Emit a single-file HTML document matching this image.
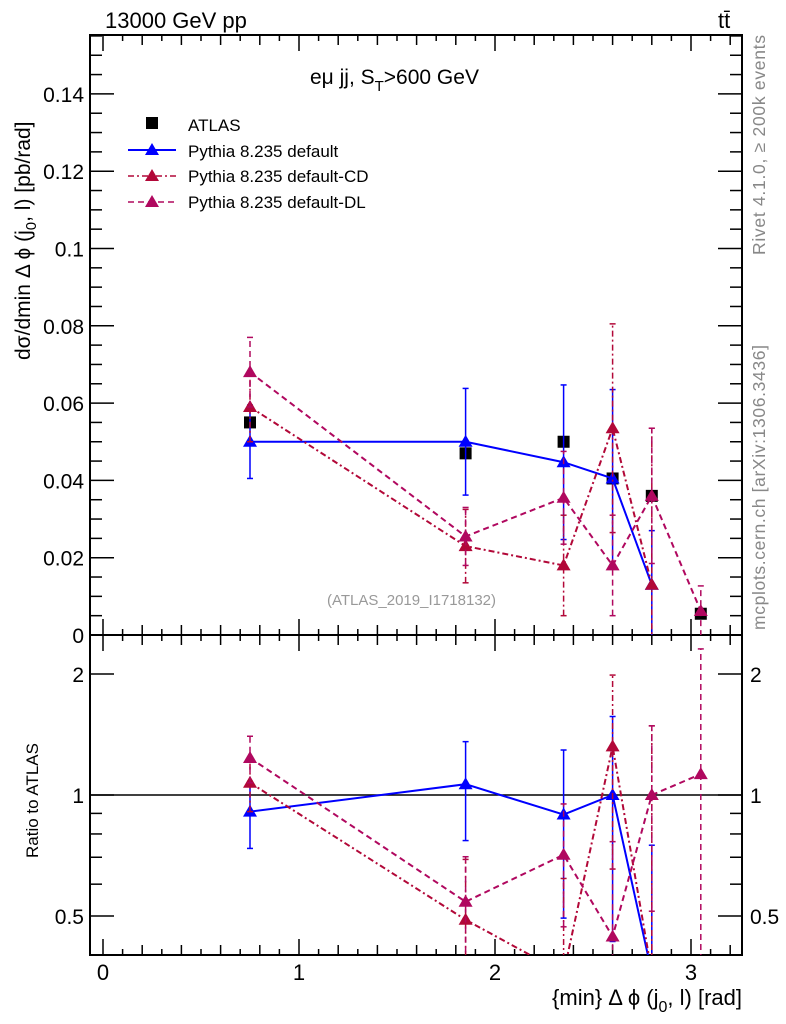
<!DOCTYPE html>
<html><head><meta charset="utf-8"><style>
html,body{margin:0;background:#fff;overflow:hidden;width:786px;height:1024px}
svg{display:block;font-family:"Liberation Sans",sans-serif}
</style></head><body>
<svg id="c" width="786" height="1024" viewBox="0 0 786 1024">
<text x="105" y="28" font-size="22">13000 GeV pp</text>
<text x="718" y="28" font-size="22">tt̄</text>
<text x="310" y="84" font-size="21">eμ jj, S<tspan dy="7" font-size="15">T</tspan><tspan dy="-7">&gt;600 GeV</tspan></text>
<g>
<rect x="146" y="117" width="12" height="12" fill="#000"/>
<text x="188" y="131" font-size="17">ATLAS</text>
<line x1="128" x2="176" y1="150" y2="150" stroke="#0000ff" stroke-width="2"/>
<path d="M152 143L159 155L145 155Z" fill="#0000ff"/>
<text x="188" y="157" font-size="17">Pythia 8.235 default</text>
<line x1="128" x2="176" y1="176" y2="176" stroke="#b20838" stroke-width="1.5" stroke-dasharray="6 3 2 3"/>
<path d="M152 169L159 181L145 181Z" fill="#b20838"/>
<text x="188" y="182" font-size="17">Pythia 8.235 default-CD</text>
<line x1="128" x2="176" y1="202" y2="202" stroke="#b0085f" stroke-width="1.5" stroke-dasharray="6 4"/>
<path d="M152 195L159 207L145 207Z" fill="#b0085f"/>
<text x="188" y="208" font-size="17">Pythia 8.235 default-DL</text>
</g>
<text x="327" y="605" font-size="15" fill="#999">(ATLAS_2019_I1718132)</text>
<text transform="translate(30,360) rotate(-90)" font-size="21">dσ/dmin Δ ϕ (j<tspan dy="6" font-size="15">0</tspan><tspan dy="-6">, l) [pb/rad]</tspan></text>
<text transform="translate(38,858) rotate(-90)" font-size="17">Ratio to ATLAS</text>
<text x="742" y="1005" font-size="22" text-anchor="end">{min} Δ ϕ (j<tspan dy="7" font-size="16">0</tspan><tspan dy="-7">, l) [rad]</tspan></text>
<text transform="translate(765,255) rotate(-90)" font-size="17.5" fill="#888" textLength="220">Rivet 4.1.0, ≥ 200k events</text>
<text transform="translate(765,630) rotate(-90)" font-size="17.5" fill="#888" textLength="285">mcplots.cern.ch [arXiv:1306.3436]</text>
</svg>
<script>
const xCenters=[0.75,1.85,2.35,2.6,2.8,3.05];
const atlasVals=[0.055,0.047,0.050,0.0405,0.036,0.0055];
const defVals=[0.050,0.050,0.0447,0.0405,0.013,null];
const defErr=[0.0095,0.0138,0.020,0.023,0.014,null];
const cdVals=[0.059,0.023,0.018,0.0535,0.013,null];
const cdErr=[0.009,0.0095,0.013,0.027,0.0405,null];
const dlVals=[0.068,0.0255,0.0355,0.018,0.036,0.0062];
const dlErr=[0.009,0.0075,0.012,0.013,0.0175,0.0065];
const mainTicks=[0,0.02,0.04,0.06,0.08,0.1,0.12,0.14];
const xTicks=[0,1,2,3];
const ratioTicks=[0.5,1,2];

const NS="http://www.w3.org/2000/svg";
const svg=document.getElementById('c');
const L=90,R=742,T=35,M=635,B=955;
const X=v=>103+196*v;
const Y=v=>635-v*3865;
const YR=r=>795-121*Math.log2(r);
function el(tag,attrs,parent,text){const e=document.createElementNS(NS,tag);for(const k in attrs)e.setAttribute(k,attrs[k]);if(text!==undefined)e.textContent=text;(parent||svg).appendChild(e);return e;}

const f1=el('rect',{x:L,y:T,width:R-L,height:M-T,fill:'none',stroke:'#000','stroke-width':2});


const f2=el('rect',{x:L,y:M,width:R-L,height:B-M,fill:'none',stroke:'#000','stroke-width':2});



for(let k=0;k<=32;k++){
  const vv=k/10;const big=k%10===0;const minor5=k%2===0;
  const l=big?16:(minor5?10:6);
  [[M,-1],[T,1],[B,-1],[M,1]].forEach(([y0,d])=>{el('line',{x1:X(vv),x2:X(vv),y1:y0,y2:y0+d*l,stroke:'#000','stroke-width':1.5});});
}
xTicks.forEach(v=>{const t=el('text',{x:X(v),y:980,'font-size':22,'text-anchor':'middle'},svg,String(v));

});

for(let k=0;k<=31;k++){const vv=k*0.005;const big=k%4===0;const l=big?24:12;
  el('line',{x1:L,x2:L+l,y1:Y(vv),y2:Y(vv),stroke:'#000','stroke-width':1.5});
  el('line',{x1:R,x2:R-l,y1:Y(vv),y2:Y(vv),stroke:'#000','stroke-width':1.5});}
mainTicks.forEach(v=>{const t=el('text',{x:84,y:Y(v)+8,'font-size':21,'text-anchor':'end'},svg,String(v));

});

[0.4,0.5,0.6,0.7,0.8,0.9,1,2].forEach(r=>{const big=ratioTicks.includes(r);const l=big?24:12;
  el('line',{x1:L,x2:L+l,y1:YR(r),y2:YR(r),stroke:'#000','stroke-width':1.5});
  el('line',{x1:R,x2:R-l,y1:YR(r),y2:YR(r),stroke:'#000','stroke-width':1.5});});
ratioTicks.forEach(r=>{const t=el('text',{x:84,y:YR(r)+8,'font-size':21,'text-anchor':'end'},svg,String(r));


const t2=el('text',{x:750,y:YR(r)+8,'font-size':21},svg,String(r));

});
el('line',{x1:L,x2:R,y1:YR(1),y2:YR(1),stroke:'#000','stroke-width':1.5});

const defs=el('defs',{});
const c1=el('clipPath',{id:'cm'},defs);el('rect',{x:L,y:T,width:R-L,height:M-T},c1);
const c2=el('clipPath',{id:'cr'},defs);el('rect',{x:L,y:M,width:R-L,height:B-M},c2);
const gm=el('g',{'clip-path':'url(#cm)'});
const gr=el('g',{'clip-path':'url(#cr)'});

function tri(g,x,y,c){el('path',{d:`M${x} ${y-7}L${x+7} ${y+5}L${x-7} ${y+5}Z`,fill:c},g);}
function series(name,vals,errs,color,dash){
  [[gm,Y,false],[gr,YR,true]].forEach(([g,fy,rat])=>{
    const grp=el('g',{},g);
    
    
    const tr=(v,i)=>rat?(v/atlasVals[i]>0?fy(v/atlasVals[i]):2000):fy(v);
    const pts=[];
    vals.forEach((v,i)=>{if(v===null)return;pts.push(X(xCenters[i])+','+tr(v,i));});
    el('polyline',{points:pts.join(' '),fill:'none',stroke:color,'stroke-width':2,'stroke-dasharray':dash||''},grp);
    vals.forEach((v,i)=>{if(v===null)return;const e=errs[i];const x=X(xCenters[i]);
      const y1=tr(v-e,i),y2=tr(v+e,i),yc=tr(v,i);
      el('line',{x1:x,x2:x,y1:y1,y2:y2,stroke:color,'stroke-width':1.5,'stroke-dasharray':dash||''},grp);
      el('line',{x1:x-3,x2:x+3,y1:y1,y2:y1,stroke:color,'stroke-width':1.5},grp);
      el('line',{x1:x-3,x2:x+3,y1:y2,y2:y2,stroke:color,'stroke-width':1.5},grp);
      tri(grp,x,yc,color);});
  });
}
const ga=el('g',{},gm);


atlasVals.forEach((v,i)=>{el('rect',{x:X(xCenters[i])-6,y:Y(v)-6,width:12,height:12,fill:'#000'},ga);});
series('pythia-default',defVals,defErr,'#0000ff','');
series('pythia-default-cd',cdVals,cdErr,'#b20838','6 3 2 3');
series('pythia-default-dl',dlVals,dlErr,'#b0085f','6 4');
</script>
</body></html>
